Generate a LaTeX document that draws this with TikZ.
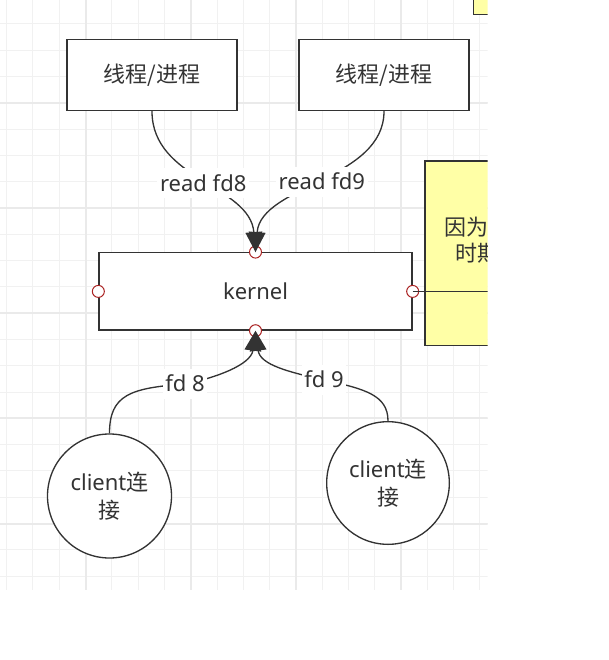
\documentclass[tikz,border=0pt]{standalone}
\usepackage{fontspec}
\setmainfont{Noto Sans}
\newfontfamily\cjk{Noto Sans CJK SC}
\usetikzlibrary{arrows.meta}
\definecolor{lineclr}{RGB}{51,51,51}
\definecolor{gridminor}{RGB}{241,241,241}
\definecolor{gridmajor}{RGB}{234,234,234}
\definecolor{noteclr}{RGB}{255,255,166}
\definecolor{portclr}{RGB}{170,34,34}

\tikzset{every picture/.style={line width=0.75pt}}
\tikzset{
  txt/.style={font={\fontsize{16.5pt}{22pt}\selectfont}, text=lineclr},
  procbox/.style={txt, draw=lineclr, line width=1pt, fill=white, minimum width=127.5pt, minimum height=53.5pt, inner sep=0pt},
  clientnode/.style={txt, circle, draw=lineclr, line width=1pt, fill=white, inner sep=0pt, align=center, font={\fontsize{16.5pt}{21pt}\selectfont}},
  notebox/.style={draw=lineclr, line width=1pt, fill=noteclr},
  port/.style={circle, draw=portclr, fill=white, line width=0.75pt, minimum size=9pt, inner sep=0pt},
  flow/.style={draw=lineclr, line width=1pt, -{Triangle[length=15pt,width=12.5pt]}},
  lbl/.style={txt, fill=white, inner xsep=2pt, inner ysep=3pt, text height=14pt, text depth=2.5pt},
  minorline/.style={draw=gridminor, line width=0.75pt},
  majorline/.style={draw=gridmajor, line width=1.5pt}
}

\begin{document}
\begin{tikzpicture}[x=0.75pt,y=0.75pt,yscale=-1,xscale=1]
	\useasboundingbox (0,0) rectangle (608,660);
	\begin{scope}
	\clip (0,0) rectangle (487.7,660);
	
	%Shape: Grid
	\foreach \i in {0,...,18} \draw[minorline] ({6.7+26.29*\i},0) -- ({6.7+26.29*\i},590);
	\foreach \j in {0,...,21} \draw[minorline] (0,{24+26.29*\j}) -- (487.7,{24+26.29*\j});
	\foreach \i in {3,7,11,15} \draw[majorline] ({6.7+26.29*\i},0) -- ({6.7+26.29*\i},590);
	\foreach \j in {3,7,11,15,19} \draw[majorline] (0,{24+26.29*\j}) -- (487.7,{24+26.29*\j});
	
	%Shape: Rectangle
	\draw[notebox] (473.3,-5) rectangle (560,14.3);
	%Shape: Rectangle
	\node[notebox, minimum width=93.75pt, minimum height=138.5pt] (note) at (487.5,253.3) {};
	% Text Node
	\node[txt, anchor=west, inner sep=0pt] (why1) at (444,226.7) {\cjk 因为};
	% Text Node
	\node[txt, anchor=west, inner sep=0pt] (why2) at (455,253) {\cjk 时期};
	
	%Shape: Rectangle
	\node[procbox] (proc8) at (152,74.9) {\cjk 线程/进程};
	%Shape: Rectangle
	\node[procbox] (proc9) at (384,74.9) {\cjk 线程/进程};
	%Shape: Rectangle
	\node[procbox, minimum width=234.75pt, minimum height=58pt] (kernel) at (255.5,291.4) {kernel};
	
	%Shape: Circle
	\node[clientnode, minimum size=93pt] (conn8) at (109.5,496) {client{\cjk 连}\\{\cjk 接}};
	%Shape: Circle
	\node[clientnode, minimum size=92pt] (conn9) at (388,483) {client{\cjk 连}\\{\cjk 接}};
	
	%Connection points
	\node[port] (pn) at (kernel.north) {};
	\node[port] (ps) at (kernel.south) {};
	\node[port] (pw) at (kernel.west) {};
	\node[port] (pe) at (kernel.east) {};
	
	%Curve Lines
	\draw[flow] (proc8.south) .. controls (152,180) and (250,185) .. (kernel.north) node[lbl, pos=0.51] (rd8) {read fd8};
	%Curve Lines
	\draw[flow] (proc9.south) .. controls (384,180) and (261,185) .. (kernel.north) node[lbl, pos=0.5] (rd9) {read fd9};
	%Curve Lines
	\draw[flow] (conn8.north) .. controls (109.5,395) and (130,388) .. (185,384) node[lbl] (fd8) {fd 8} .. controls (215,378) and (251,365) .. (kernel.south);
	%Curve Lines
	\draw[flow] (conn9.north) .. controls (388,395) and (365,389) .. (324,380) node[lbl] (fd9) {fd 9} .. controls (289,372) and (260,365) .. (kernel.south);
	
	%Straight Lines
	\coordinate (noteIn) at (560,291.4);
	\draw[draw=lineclr, line width=1pt] (kernel.east) -- (noteIn);
	\end{scope}
\end{tikzpicture}
\end{document}
